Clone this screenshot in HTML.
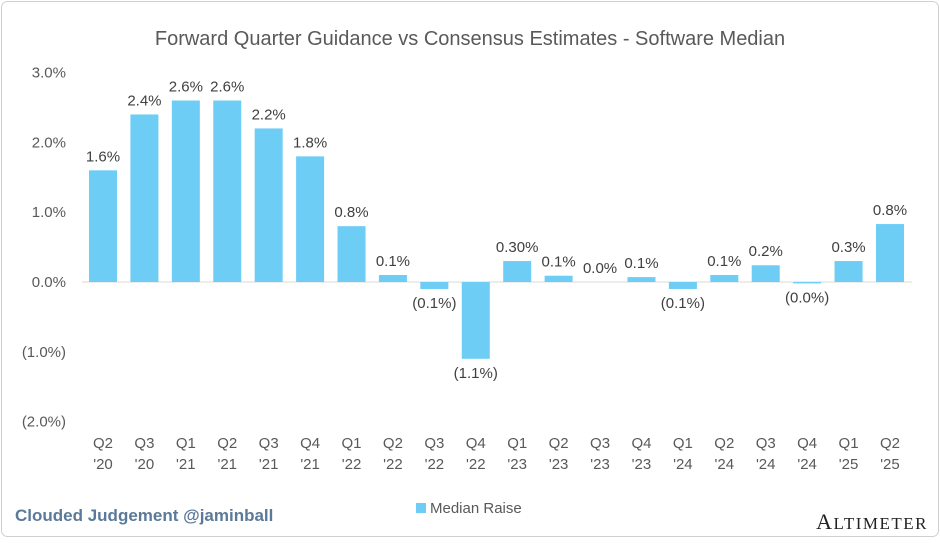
<!DOCTYPE html>
<html><head><meta charset="utf-8"><style>
body{margin:0;background:#fff;width:940px;height:538px;overflow:hidden;font-family:"Liberation Sans",sans-serif}
</style></head><body>
<svg id="chart" width="940" height="538" xmlns="http://www.w3.org/2000/svg" font-family="Liberation Sans, sans-serif">
<rect x="1.5" y="1.5" width="937" height="535" rx="6" fill="#fff" stroke="#d0d0d0"/>
<text x="470" y="45" text-anchor="middle" font-size="20" fill="#595959">Forward Quarter Guidance vs Consensus Estimates - Software Median</text>
<g id="yaxis"></g><g id="bars"></g><g id="labels"></g><g id="xaxis"></g>
<rect x="416" y="503" width="10" height="10" fill="#6dcdf5"/>
<text x="430" y="513" font-size="15" fill="#595959">Median Raise</text>
<text x="15" y="521" font-size="17" font-weight="bold" fill="#5b7a99">Clouded Judgement @jaminball</text>
<text x="928" y="529" text-anchor="end" font-family="Liberation Serif, serif" font-size="22" letter-spacing="1.5" fill="#222">A<tspan font-size="17">LTIMETER</tspan></text>
</svg>
<script>
const categories=["Q2\n'20","Q3\n'20","Q1\n'21","Q2\n'21","Q3\n'21","Q4\n'21","Q1\n'22","Q2\n'22","Q3\n'22","Q4\n'22","Q1\n'23","Q2\n'23","Q3\n'23","Q4\n'23","Q1\n'24","Q2\n'24","Q3\n'24","Q4\n'24","Q1\n'25","Q2\n'25"];
const values=[1.6,2.4,2.6,2.6,2.2,1.8,0.8,0.1,-0.1,-1.1,0.3,0.09,0.0,0.07,-0.1,0.1,0.24,-0.02,0.3,0.83];
const valueLabels=["1.6%","2.4%","2.6%","2.6%","2.2%","1.8%","0.8%","0.1%","(0.1%)","(1.1%)","0.30%","0.1%","0.0%","0.1%","(0.1%)","0.1%","0.2%","(0.0%)","0.3%","0.8%"];
const yTicks=[3,2,1,0,-1,-2];
const yTickLabels=["3.0%","2.0%","1.0%","0.0%","(1.0%)","(2.0%)"];
const NS="http://www.w3.org/2000/svg";
const y=v=>282-v*69.8;
const x=i=>103+i*41.42;
const bw=28;
function mk(tag,attrs,parent,txt){const e=document.createElementNS(NS,tag);for(const k in attrs)e.setAttribute(k,attrs[k]);if(txt!==undefined)e.textContent=txt;document.getElementById(parent).appendChild(e);return e;}
yTicks.forEach((t,i)=>{
 const e=mk('text',{x:66,y:y(t)+5,'text-anchor':'end','font-size':15,fill:'#595959'},'yaxis',yTickLabels[i]);
 
 
});
const ax=mk('line',{x1:82,x2:912,y1:y(0),y2:y(0),stroke:'#d9d9d9','stroke-width':1},'yaxis');


values.forEach((v,i)=>{
 const top=Math.min(y(v),y(0)),h=Math.abs(y(v)-y(0));
 const r=mk('rect',{x:x(i)-bw/2,y:top,width:bw,height:Math.max(h,0),fill:'#6dcdf5'},'bars');
 
 
 const ly=v>=0?y(v)-9:y(v)+19;
 const l=mk('text',{x:x(i),y:ly,'text-anchor':'middle','font-size':15,fill:'#404040'},'labels',valueLabels[i]);
 
 
 const parts=categories[i].split('\n');
 parts.forEach((p,j)=>{
  const c=mk('text',{x:x(i),y:448+j*21,'text-anchor':'middle','font-size':15,fill:'#595959'},'xaxis',p);
  
  
 });
});
</script>
</body></html>
